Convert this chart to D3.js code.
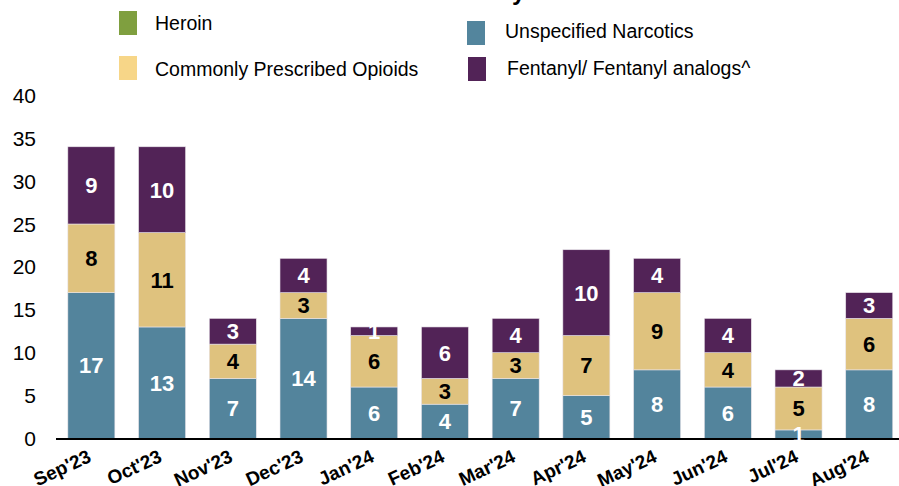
<!DOCTYPE html>
<html>
<head>
<meta charset="utf-8">
<script src="https://cdn.jsdelivr.net/npm/d3@7"></script>
<style>
  body { margin: 0; background: #fff; }
  svg { display: block; font-family: "Liberation Sans", Arial, sans-serif; }
</style>
</head>
<body>
<div id="chart"></div>
<script>
// data
const months = ["Sep'23", "Oct'23", "Nov'23", "Dec'23", "Jan'24", "Feb'24",
                "Mar'24", "Apr'24", "May'24", "Jun'24", "Jul'24", "Aug'24"];
const heroin      = [0, 0, 0, 0, 0, 0, 0, 0, 0, 0, 0, 0];
const unspecified = [17, 13, 7, 14, 6, 4, 7, 5, 8, 6, 1, 8];
const prescribed  = [8, 11, 4, 3, 6, 3, 3, 7, 9, 4, 5, 6];
const fentanyl    = [9, 10, 3, 4, 1, 6, 4, 10, 4, 4, 2, 3];
const yTicks = [0, 5, 10, 15, 20, 25, 30, 35, 40];

const seriesKeys = ["heroin", "unspecified", "prescribed", "fentanyl"];
const seriesInfo = {
    heroin:      { name: "Heroin", color: "#7f9f3f", legend: "#7f9f3f", label: "#fff" },
    unspecified: { name: "Unspecified Narcotics", color: "#53849c", legend: "#53859d", label: "#fff" },
    prescribed:  { name: "Commonly Prescribed Opioids", color: "#dfc27e", legend: "#f7d688", label: "#000" },
    fentanyl:    { name: "Fentanyl/ Fentanyl analogs^", color: "#522357", legend: "#522357", label: "#fff" }
};

const table = months.map((m, i) => ({
    month: m,
    heroin: heroin[i],
    unspecified: unspecified[i],
    prescribed: prescribed[i],
    fentanyl: fentanyl[i]
}));

const width = 899, height = 486;

const svg = d3.select("#chart").append("svg")
    .attr("width", width)
    .attr("height", height);

const x = d3.scaleBand()
    .domain(months)
    .range([56, 904.6])
    .paddingInner(0.335)
    .paddingOuter(0.1675);

const y = d3.scaleLinear()
    .domain([0, 40])
    .range([438.5, 95.3]);

// title, mostly above the top edge (only descenders show)
const title = svg.append("text")
    .attr("y", 0)
    .attr("font-size", "24px")
    .attr("font-weight", "bold")
    .attr("fill", "#000")
    .text("Overdose Deaths Monthly/ Substance Involved");
const tmp = svg.append("text").attr("font-size", "24px").attr("font-weight", "bold")
    .text("Overdose Deaths Monthl");
const prefixLen = tmp.node().getComputedTextLength();
tmp.remove();
title.attr("x", 512 - prefixLen);

// stacked bars
const stack = d3.stack().keys(seriesKeys);
const layers = stack(table);

const layerG = svg.append("g")
    .selectAll("g")
    .data(layers)
    .enter()
    .append("g")
    .attr("fill", d => seriesInfo[d.key].color);

layerG.selectAll("rect")
    .data(d => d.filter(s => s[1] - s[0] > 0))
    .enter()
    .append("rect")
    .attr("x", d => x(d.data.month))
    .attr("width", x.bandwidth())
    .attr("y", d => y(d[1]))
    .attr("height", d => y(d[0]) - y(d[1]))
    .attr("stroke", "#e9e4ea")
    .attr("stroke-width", 0.6);

// baseline
svg.append("line")
    .attr("x1", 56).attr("x2", width)
    .attr("y1", y(0) + 0.5).attr("y2", y(0) + 0.5)
    .attr("stroke", "#000")
    .attr("stroke-width", 2);

// value labels
layers.forEach(layer => {
    svg.append("g")
        .selectAll("text")
        .data(layer.filter(s => s[1] - s[0] > 0))
        .enter()
        .append("text")
        .attr("x", d => x(d.data.month) + x.bandwidth() / 2)
        .attr("y", d => y((d[0] + d[1]) / 2))
        .attr("dy", "0.36em")
        .attr("text-anchor", "middle")
        .attr("font-size", "22px")
        .attr("font-weight", "bold")
        .attr("fill", seriesInfo[layer.key].label)
        .text(d => d[1] - d[0]);
});

// y tick labels
svg.append("g")
    .selectAll("text")
    .data(yTicks)
    .enter()
    .append("text")
    .attr("x", 36)
    .attr("y", d => y(d))
    .attr("dy", "0.36em")
    .attr("text-anchor", "end")
    .attr("font-size", "21px")
    .attr("fill", "#000")
    .text(d => d);

// x labels, rotated
svg.append("g")
    .selectAll("text")
    .data(months)
    .enter()
    .append("text")
    .attr("transform", d => `translate(${x(d) + x.bandwidth() / 2 + 1},461) rotate(-25)`)
    .attr("text-anchor", "end")
    .attr("font-size", "19px")
    .attr("font-weight", "bold")
    .attr("fill", "#000")
    .text(d => d);

// legend
const legendItems = [
    { key: "heroin",      sx: 119, sy: 11, tx: 155, ty: 30 },
    { key: "prescribed",  sx: 119, sy: 56, tx: 155, ty: 76 },
    { key: "unspecified", sx: 467, sy: 21, tx: 505, ty: 38 },
    { key: "fentanyl",    sx: 468, sy: 57, tx: 507, ty: 75 }
];

const legend = svg.append("g");
legend.selectAll("rect")
    .data(legendItems)
    .enter()
    .append("rect")
    .attr("x", d => d.sx)
    .attr("y", d => d.sy)
    .attr("width", 18)
    .attr("height", 24)
    .attr("fill", d => seriesInfo[d.key].legend);

legend.selectAll("text")
    .data(legendItems)
    .enter()
    .append("text")
    .attr("x", d => d.tx)
    .attr("y", d => d.ty)
    .attr("font-size", "19.5px")
    .attr("fill", "#000")
    .text(d => seriesInfo[d.key].name);
</script>
</body>
</html>
